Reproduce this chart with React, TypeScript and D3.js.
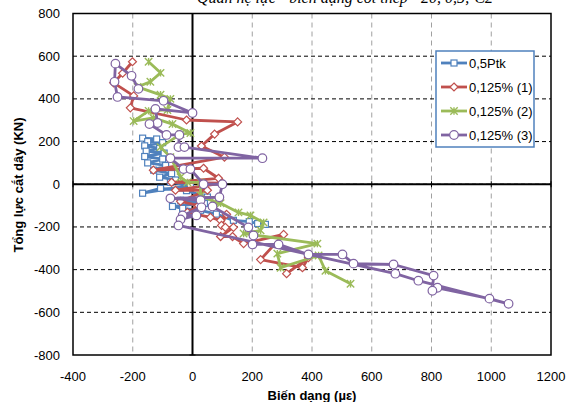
import React from "react";
import * as d3 from "d3";

const xTicks = [-400, -200, 0, 200, 400, 600, 800, 1000, 1200];
const yTicks = [-800, -600, -400, -200, 0, 200, 400, 600, 800];

const seriesNames = ["0,5Ptk", "0,125% (1)", "0,125% (2)", "0,125% (3)"];

const blue: [number, number][] = [
  [-167, 216], [-120, 212], [-150, 200], [-100, 195], [-160, 180], [-110, 168], [-155, 155], [-95, 146],
  [-160, 130], [-100, 118], [-150, 100], [-90, 88], [-130, 66], [-70, 50], [-110, 33], [-57, 20], [-74, 9],
  [-7, -5], [-167, -42], [-107, -19], [-20, -30], [50, -60], [-40, -75], [40, -90], [-67, -104], [-33, -113],
  [27, -122], [80, -140], [137, -169], [190, -175], [218, -184], [244, -188],
];

const red: [number, number][] = [
  [-201, 574], [-234, 520], [-264, 475], [-197, 414], [-208, 358], [-20, 301], [151, 292], [74, 235],
  [30, 179], [107, 127], [-131, 66], [37, 75], [87, 28], [-70, 9], [100, 5], [-57, -28], [50, -28],
  [-40, -80], [20, -100], [-17, -132], [60, -155], [94, -169], [114, -141], [97, -193], [110, -202],
  [137, -202], [94, -245], [134, -245], [171, -278], [305, -235], [228, -353], [368, -391], [388, -344],
  [315, -419],
];

const green: [number, number][] = [
  [-147, 574], [-107, 522], [-141, 480], [-184, 456], [-107, 419], [-74, 400], [-84, 348], [-147, 344],
  [-197, 296], [-131, 311], [-67, 282], [-7, 240], [-40, 235], [-107, 174], [-74, 127], [-40, 33],
  [-17, 9], [27, 9], [27, -52], [77, -85], [94, -89], [154, -132], [194, -146], [238, -179], [228, -216],
  [171, -231], [418, -278], [284, -325], [295, -391], [422, -334], [445, -405], [529, -466],
];

const purple: [number, number][] = [
  [-181, 447], [-204, 508], [-258, 565], [-261, 480], [-251, 409], [-97, 391], [0, 334], [-124, 353],
  [-117, 287], [-144, 282], [-87, 231], [-44, 231], [-47, 174], [-27, 174], [234, 122], [-74, 122],
  [-30, 71], [-7, 71], [37, 0], [100, 0], [90, -61], [-74, -66], [27, -75], [30, -108], [-33, -146],
  [13, -146], [-40, -165], [-47, -193], [679, -419], [756, -452], [1058, -560], [994, -536], [820, -485],
  [803, -499], [807, -428], [673, -376], [539, -372], [502, -329], [388, -329], [288, -282], [201, -282],
  [204, -240], [187, -202], [67, -104],
];

const colors = ["#4F81BD", "#C0504D", "#9BBB59", "#8064A2"];
const markers = ["square", "diamond", "star", "circle"];

const L = 73, R = 551, T = 13.5, B = 355;

function Marker({ type, x, y, color }: { type: string; x: number; y: number; color: string }) {
  if (type === "square")
    return <rect x={x - 3} y={y - 3} width={6} height={6} fill="#fff" stroke={color} strokeWidth={1.2} />;
  if (type === "diamond")
    return (
      <path d={`M${x},${y - 4}L${x + 4},${y}L${x},${y + 4}L${x - 4},${y}Z`} fill="#fff" stroke={color} strokeWidth={1.2} />
    );
  if (type === "circle") return <circle cx={x} cy={y} r={4.3} fill="#fff" stroke={color} strokeWidth={1.2} />;
  const s = 3.7;
  return (
    <path
      d={`M${x - s},${y - s}L${x + s},${y + s}M${x - s},${y + s}L${x + s},${y - s}M${x},${y - s}L${x},${y + s}`}
      stroke={color}
      strokeWidth={1.4}
      fill="none"
    />
  );
}

export default function App() {
  const x = d3.scaleLinear().domain([-400, 1200]).range([L, R]);
  const y = d3.scaleLinear().domain([-800, 800]).range([B, T]);
  const line = d3
    .line<[number, number]>()
    .x((d) => x(d[0]))
    .y((d) => y(d[1]));
  const all = [blue, red, green, purple];
  const font = "Arial, 'Liberation Sans', sans-serif";

  return (
    <svg width={569} height={402} style={{ position: "absolute", left: 0, top: 0 }} fontFamily={font}>
      <rect width={569} height={402} fill="#fff" />
      <text x={345} y={3} textAnchor="middle" fontSize={16} fontStyle="italic" fontFamily="'Times New Roman', 'Liberation Serif', serif">
        Quan hệ lực - biến dạng cốt thép - 20, 0,5; C2
      </text>
      {xTicks.slice(1, -1).map((t) => (
        <line key={"vx" + t} x1={x(t)} x2={x(t)} y1={T} y2={B} stroke="#a0a0a0" strokeWidth={1} strokeDasharray="5,4" />
      ))}
      {yTicks.slice(1, -1).map((t) => (
        <line key={"hy" + t} x1={L} x2={R} y1={y(t)} y2={y(t)} stroke="#000" strokeWidth={1} strokeDasharray="4,3" />
      ))}
      <line x1={x(0)} x2={x(0)} y1={T} y2={B} stroke="#000" strokeWidth={2} />
      <line x1={L} x2={R} y1={y(0)} y2={y(0)} stroke="#000" strokeWidth={2} />
      {yTicks.map((t) => (
        <line key={"ty" + t} x1={x(0) - 3} x2={x(0) + 3} y1={y(t)} y2={y(t)} stroke="#000" strokeWidth={1} />
      ))}
      {xTicks.map((t) => (
        <line key={"tx" + t} x1={x(t)} x2={x(t)} y1={y(0) - 3} y2={y(0) + 3} stroke="#000" strokeWidth={1} />
      ))}
      <rect x={L} y={T} width={R - L} height={B - T} fill="none" stroke="#000" strokeWidth={1.5} />
      {all.map((data, i) => (
        <g key={"s" + i}>
          <path d={line(data) || ""} fill="none" stroke={colors[i]} strokeWidth={2.8} strokeLinejoin="round" />
          {data.map((d, j) => (
            <Marker key={j} type={markers[i]} x={x(d[0])} y={y(d[1])} color={colors[i]} />
          ))}
        </g>
      ))}
      {yTicks.map((t) => (
        <text key={"ly" + t} x={60} y={y(t) + 4.5} textAnchor="end" fontSize={13}>
          {t}
        </text>
      ))}
      {xTicks.map((t) => (
        <text key={"lx" + t} x={x(t)} y={381} textAnchor="middle" fontSize={13}>
          {t}
        </text>
      ))}
      <text x={312} y={400} textAnchor="middle" fontSize={13} fontWeight="bold">
        Biến dạng (µε)
      </text>
      <text transform="translate(23,185) rotate(-90)" textAnchor="middle" fontSize={13} fontWeight="bold">
        Tổng lực cắt dây (KN)
      </text>
      <rect x={436} y={51} width={98} height={96} fill="#fff" stroke="#4F81BD" strokeWidth={1.5} />
      {seriesNames.map((n, i) => {
        const cy = 63 + i * 24;
        return (
          <g key={"lg" + i}>
            <line x1={441} x2={467} y1={cy} y2={cy} stroke={colors[i]} strokeWidth={2.8} />
            <Marker type={markers[i]} x={454} y={cy} color={colors[i]} />
            <text x={469} y={cy + 4.5} fontSize={13}>
              {n}
            </text>
          </g>
        );
      })}
    </svg>
  );
}
